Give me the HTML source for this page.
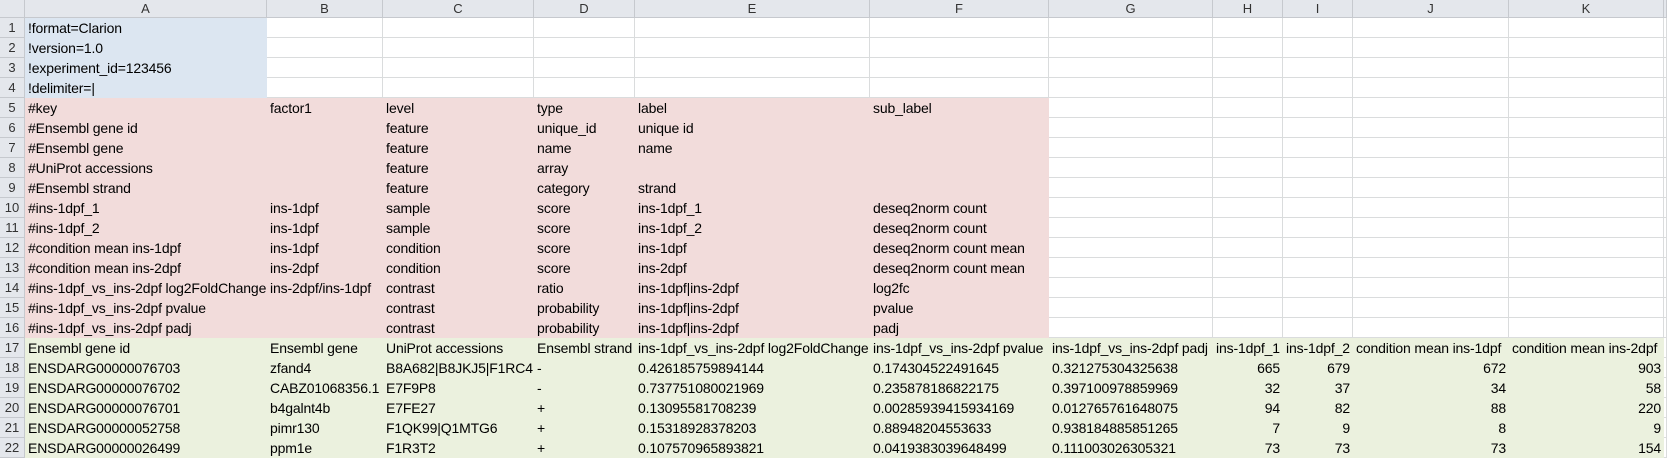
<!DOCTYPE html>
<html><head><meta charset="utf-8"><style>
body{margin:0;width:1667px;height:460px;overflow:hidden;background:#fff;font-family:"Liberation Sans",Arial,sans-serif;}
.row{display:flex;height:20px;width:1667px}
.row.h{height:18px}
.c{box-sizing:border-box;flex:none;height:100%;padding:0 2px 0 3px;border-right:1px solid #dadcdd;border-bottom:1px solid #dadcdd;font-size:14px;letter-spacing:-0.15px;white-space:nowrap;overflow:hidden;color:#000;line-height:20px;}
.c:nth-child(1){width:25px}.c:nth-child(2){width:242px}.c:nth-child(3){width:116px}.c:nth-child(4){width:151px}.c:nth-child(5){width:101px}.c:nth-child(6){width:235px}.c:nth-child(7){width:179px}.c:nth-child(8){width:164px}.c:nth-child(9){width:70px}.c:nth-child(10){width:70px}.c:nth-child(11){width:156px}.c:nth-child(12){width:155px}.c:nth-child(13){width:3px;padding:0}
.h .c{background:#e4e7ec;border-color:#c6c9ce;text-align:center;font-size:13px;color:#333;line-height:17px;padding:0;letter-spacing:0}
.c.rh{background:#e4e7ec;border-color:#c6c9ce;text-align:center;font-size:13px;color:#333;padding:0;letter-spacing:0}
.b{background:#dce6f1;border-color:#dce6f1}
.p{background:#f2dcdb;border-color:#f2dcdb}
.g{background:#ebf1de;border-color:#ebf1de}
.r{text-align:right}
</style></head><body>
<div class="row h"><div class="c"></div><div class="c">A</div><div class="c">B</div><div class="c">C</div><div class="c">D</div><div class="c">E</div><div class="c">F</div><div class="c">G</div><div class="c">H</div><div class="c">I</div><div class="c">J</div><div class="c">K</div><div class="c"></div></div>
<div class="row"><div class="c rh">1</div><div class="c b">!format=Clarion</div><div class="c"></div><div class="c"></div><div class="c"></div><div class="c"></div><div class="c"></div><div class="c"></div><div class="c"></div><div class="c"></div><div class="c"></div><div class="c"></div><div class="c"></div></div>
<div class="row"><div class="c rh">2</div><div class="c b">!version=1.0</div><div class="c"></div><div class="c"></div><div class="c"></div><div class="c"></div><div class="c"></div><div class="c"></div><div class="c"></div><div class="c"></div><div class="c"></div><div class="c"></div><div class="c"></div></div>
<div class="row"><div class="c rh">3</div><div class="c b">!experiment_id=123456</div><div class="c"></div><div class="c"></div><div class="c"></div><div class="c"></div><div class="c"></div><div class="c"></div><div class="c"></div><div class="c"></div><div class="c"></div><div class="c"></div><div class="c"></div></div>
<div class="row"><div class="c rh">4</div><div class="c b">!delimiter=|</div><div class="c"></div><div class="c"></div><div class="c"></div><div class="c"></div><div class="c"></div><div class="c"></div><div class="c"></div><div class="c"></div><div class="c"></div><div class="c"></div><div class="c"></div></div>
<div class="row"><div class="c rh">5</div><div class="c p">#key</div><div class="c p">factor1</div><div class="c p">level</div><div class="c p">type</div><div class="c p">label</div><div class="c p">sub_label</div><div class="c"></div><div class="c"></div><div class="c"></div><div class="c"></div><div class="c"></div><div class="c"></div></div>
<div class="row"><div class="c rh">6</div><div class="c p">#Ensembl gene id</div><div class="c p"></div><div class="c p">feature</div><div class="c p">unique_id</div><div class="c p">unique id</div><div class="c p"></div><div class="c"></div><div class="c"></div><div class="c"></div><div class="c"></div><div class="c"></div><div class="c"></div></div>
<div class="row"><div class="c rh">7</div><div class="c p">#Ensembl gene</div><div class="c p"></div><div class="c p">feature</div><div class="c p">name</div><div class="c p">name</div><div class="c p"></div><div class="c"></div><div class="c"></div><div class="c"></div><div class="c"></div><div class="c"></div><div class="c"></div></div>
<div class="row"><div class="c rh">8</div><div class="c p">#UniProt accessions</div><div class="c p"></div><div class="c p">feature</div><div class="c p">array</div><div class="c p"></div><div class="c p"></div><div class="c"></div><div class="c"></div><div class="c"></div><div class="c"></div><div class="c"></div><div class="c"></div></div>
<div class="row"><div class="c rh">9</div><div class="c p">#Ensembl strand</div><div class="c p"></div><div class="c p">feature</div><div class="c p">category</div><div class="c p">strand</div><div class="c p"></div><div class="c"></div><div class="c"></div><div class="c"></div><div class="c"></div><div class="c"></div><div class="c"></div></div>
<div class="row"><div class="c rh">10</div><div class="c p">#ins-1dpf_1</div><div class="c p">ins-1dpf</div><div class="c p">sample</div><div class="c p">score</div><div class="c p">ins-1dpf_1</div><div class="c p">deseq2norm count</div><div class="c"></div><div class="c"></div><div class="c"></div><div class="c"></div><div class="c"></div><div class="c"></div></div>
<div class="row"><div class="c rh">11</div><div class="c p">#ins-1dpf_2</div><div class="c p">ins-1dpf</div><div class="c p">sample</div><div class="c p">score</div><div class="c p">ins-1dpf_2</div><div class="c p">deseq2norm count</div><div class="c"></div><div class="c"></div><div class="c"></div><div class="c"></div><div class="c"></div><div class="c"></div></div>
<div class="row"><div class="c rh">12</div><div class="c p">#condition mean ins-1dpf</div><div class="c p">ins-1dpf</div><div class="c p">condition</div><div class="c p">score</div><div class="c p">ins-1dpf</div><div class="c p">deseq2norm count mean</div><div class="c"></div><div class="c"></div><div class="c"></div><div class="c"></div><div class="c"></div><div class="c"></div></div>
<div class="row"><div class="c rh">13</div><div class="c p">#condition mean ins-2dpf</div><div class="c p">ins-2dpf</div><div class="c p">condition</div><div class="c p">score</div><div class="c p">ins-2dpf</div><div class="c p">deseq2norm count mean</div><div class="c"></div><div class="c"></div><div class="c"></div><div class="c"></div><div class="c"></div><div class="c"></div></div>
<div class="row"><div class="c rh">14</div><div class="c p">#ins-1dpf_vs_ins-2dpf log2FoldChange</div><div class="c p">ins-2dpf/ins-1dpf</div><div class="c p">contrast</div><div class="c p">ratio</div><div class="c p">ins-1dpf|ins-2dpf</div><div class="c p">log2fc</div><div class="c"></div><div class="c"></div><div class="c"></div><div class="c"></div><div class="c"></div><div class="c"></div></div>
<div class="row"><div class="c rh">15</div><div class="c p">#ins-1dpf_vs_ins-2dpf pvalue</div><div class="c p"></div><div class="c p">contrast</div><div class="c p">probability</div><div class="c p">ins-1dpf|ins-2dpf</div><div class="c p">pvalue</div><div class="c"></div><div class="c"></div><div class="c"></div><div class="c"></div><div class="c"></div><div class="c"></div></div>
<div class="row"><div class="c rh">16</div><div class="c p">#ins-1dpf_vs_ins-2dpf padj</div><div class="c p"></div><div class="c p">contrast</div><div class="c p">probability</div><div class="c p">ins-1dpf|ins-2dpf</div><div class="c p">padj</div><div class="c"></div><div class="c"></div><div class="c"></div><div class="c"></div><div class="c"></div><div class="c"></div></div>
<div class="row"><div class="c rh">17</div><div class="c g">Ensembl gene id</div><div class="c g">Ensembl gene</div><div class="c g">UniProt accessions</div><div class="c g">Ensembl strand</div><div class="c g">ins-1dpf_vs_ins-2dpf log2FoldChange</div><div class="c g">ins-1dpf_vs_ins-2dpf pvalue</div><div class="c g">ins-1dpf_vs_ins-2dpf padj</div><div class="c g">ins-1dpf_1</div><div class="c g">ins-1dpf_2</div><div class="c g">condition mean ins-1dpf</div><div class="c g">condition mean ins-2dpf</div><div class="c"></div></div>
<div class="row"><div class="c rh">18</div><div class="c g">ENSDARG00000076703</div><div class="c g">zfand4</div><div class="c g">B8A682|B8JKJ5|F1RC44</div><div class="c g">-</div><div class="c g">0.426185759894144</div><div class="c g">0.174304522491645</div><div class="c g">0.321275304325638</div><div class="c g r">665</div><div class="c g r">679</div><div class="c g r">672</div><div class="c g r">903</div><div class="c"></div></div>
<div class="row"><div class="c rh">19</div><div class="c g">ENSDARG00000076702</div><div class="c g">CABZ01068356.1</div><div class="c g">E7F9P8</div><div class="c g">-</div><div class="c g">0.737751080021969</div><div class="c g">0.235878186822175</div><div class="c g">0.397100978859969</div><div class="c g r">32</div><div class="c g r">37</div><div class="c g r">34</div><div class="c g r">58</div><div class="c"></div></div>
<div class="row"><div class="c rh">20</div><div class="c g">ENSDARG00000076701</div><div class="c g">b4galnt4b</div><div class="c g">E7FE27</div><div class="c g">+</div><div class="c g">0.13095581708239</div><div class="c g">0.00285939415934169</div><div class="c g">0.012765761648075</div><div class="c g r">94</div><div class="c g r">82</div><div class="c g r">88</div><div class="c g r">220</div><div class="c"></div></div>
<div class="row"><div class="c rh">21</div><div class="c g">ENSDARG00000052758</div><div class="c g">pimr130</div><div class="c g">F1QK99|Q1MTG6</div><div class="c g">+</div><div class="c g">0.15318928378203</div><div class="c g">0.88948204553633</div><div class="c g">0.938184885851265</div><div class="c g r">7</div><div class="c g r">9</div><div class="c g r">8</div><div class="c g r">9</div><div class="c"></div></div>
<div class="row"><div class="c rh">22</div><div class="c g">ENSDARG00000026499</div><div class="c g">ppm1e</div><div class="c g">F1R3T2</div><div class="c g">+</div><div class="c g">0.107570965893821</div><div class="c g">0.0419383039648499</div><div class="c g">0.111003026305321</div><div class="c g r">73</div><div class="c g r">73</div><div class="c g r">73</div><div class="c g r">154</div><div class="c"></div></div>
</body></html>
